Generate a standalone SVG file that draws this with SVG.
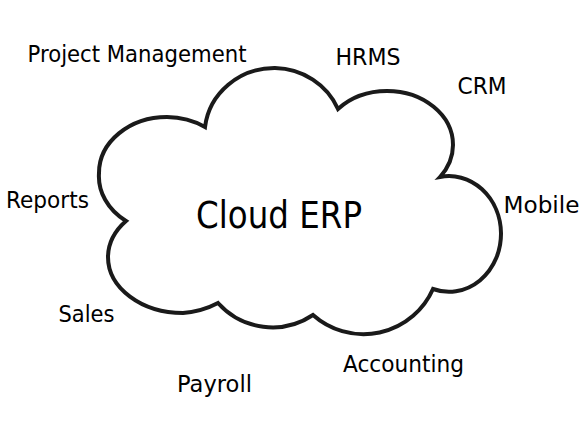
<svg xmlns="http://www.w3.org/2000/svg" width="580" height="422" viewBox="0 0 580 422">
  <style>
    .lbl { font-family: "DejaVu Sans", "Liberation Sans", sans-serif; font-size: 23px; fill: #000; }
    .title { font-family: "DejaVu Sans", "Liberation Sans", sans-serif; font-size: 36.5px; fill: #000; }
    .cloud { fill: #fff; stroke: #1a1a1a; stroke-width: 4; stroke-linejoin: miter; }
  </style>
  <rect width="580" height="422" fill="#fff"/>
  <g id="cloud">
    <path class="cloud" d="M 126 221
      A 68 56 0 0 1 99 173
      A 68 56 0 0 1 167 117
      A 68 56 0 0 1 205 127
      A 70 67 0 0 1 275 68
      A 70 67 0 0 1 338 109
      A 66 54 0 0 1 387 91
      A 66 54 0 0 1 453 145
      A 66 54 0 0 1 440 177
      A 52 58 0 0 1 501 233
      A 52 58 0 0 1 433 289
      A 76 76 0 0 1 313 315
      A 73 73 0 0 1 218 303
      A 75 56 0 0 1 183 313
      A 75 56 0 0 1 108 257
      A 75 56 0 0 1 126 221 Z"/>
    <text class="title" x="196" y="228" textLength="166" lengthAdjust="spacingAndGlyphs">Cloud ERP</text>
  </g>
  <g id="connectors"/>
  <g id="project-management"><text class="lbl" x="27.5" y="62" textLength="219" lengthAdjust="spacingAndGlyphs">Project Management</text></g>
  <g id="hrms"><text class="lbl" x="335.5" y="65" textLength="65" lengthAdjust="spacingAndGlyphs">HRMS</text></g>
  <g id="crm"><text class="lbl" x="457.5" y="94" textLength="49" lengthAdjust="spacingAndGlyphs">CRM</text></g>
  <g id="reports"><text class="lbl" x="6" y="208" textLength="83" lengthAdjust="spacingAndGlyphs">Reports</text></g>
  <g id="mobile"><text class="lbl" x="503.5" y="213" textLength="76" lengthAdjust="spacingAndGlyphs">Mobile</text></g>
  <g id="sales"><text class="lbl" x="58.5" y="322" textLength="56" lengthAdjust="spacingAndGlyphs">Sales</text></g>
  <g id="payroll"><text class="lbl" x="177" y="392" textLength="75" lengthAdjust="spacingAndGlyphs">Payroll</text></g>
  <g id="accounting"><text class="lbl" x="343" y="372" textLength="121" lengthAdjust="spacingAndGlyphs">Accounting</text></g>
</svg>
